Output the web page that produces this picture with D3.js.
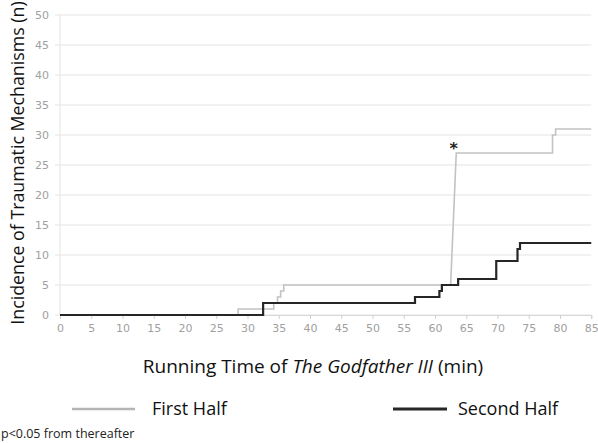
<!DOCTYPE html>
<html>
<head>
<meta charset="utf-8">
<script src="https://cdn.jsdelivr.net/npm/d3@7"></script>
<style>
  html, body { margin: 0; padding: 0; background: #fff; }
  svg { display: block; }
</style>
</head>
<body>
<div id="viz"></div>
<script>
// step plot: cumulative traumatic mechanisms over running time

// vertices: [minute, count]
const firstHalf = [
  [0, 0], [28.5, 0], [28.5, 1], [34.2, 1], [34.2, 2], [34.8, 2], [34.8, 3],
  [35.3, 3], [35.3, 4], [35.8, 4], [35.8, 5], [62.5, 5], [63.4, 27],
  [78.8, 27], [78.8, 30], [79.3, 30], [79.3, 31], [85, 31]
];
const secondHalf = [
  [0, 0], [32.5, 0], [32.5, 2], [56.8, 2], [56.8, 3], [60.7, 3], [60.7, 4],
  [61.1, 4], [61.1, 5], [63.7, 5], [63.7, 6], [69.8, 6], [69.8, 9],
  [73.2, 9], [73.2, 11], [73.6, 11], [73.6, 12], [85, 12]
];
const xTicks = d3.range(0, 86, 5);
const yTicks = d3.range(0, 51, 5);
const significance = [63.0, 28.0]; // where the * sits
const seriesNames = ["First Half", "Second Half"];

const W = 598, H = 443;
const svg = d3.select("#viz").append("svg").attr("width", W).attr("height", H);

const x = d3.scaleLinear().domain([0, 85]).range([60, 591.25]);
const y = d3.scaleLinear().domain([0, 50]).range([315, 15]);

const tickFont = "DejaVu Sans, Verdana, sans-serif";
const titleFont = "Open Sans, Noto Sans, sans-serif";

/* ---------- grid ---------- */
svg.append("g")
  .selectAll("line").data(yTicks).enter().append("line")
  .attr("x1", 55).attr("x2", x(85))
  .attr("y1", d => y(d)).attr("y2", d => y(d))
  .attr("stroke", "#e4e4e4").attr("stroke-width", 1);

svg.append("line")
  .attr("x1", x(0)).attr("x2", x(0)).attr("y1", y(50)).attr("y2", y(0))
  .attr("stroke", "#e4e4e4");

/* ---------- axes ---------- */
const xAxis = svg.append("g").attr("transform", `translate(0,${y(0)})`)
  .call(d3.axisBottom(x).tickValues(xTicks).tickSize(4).tickPadding(5));
xAxis.select(".domain").attr("stroke", "#d8d8d8");
xAxis.selectAll(".tick line").attr("stroke", "#cfcfcf");
xAxis.selectAll("text").attr("fill", "#a0a0a0")
  .style("font-family", tickFont).style("font-size", "11px");

const yAxis = svg.append("g").attr("transform", `translate(50,0)`)
  .call(d3.axisLeft(y).tickValues(yTicks).tickSize(0).tickPadding(1));
yAxis.select(".domain").remove();
yAxis.selectAll("text").attr("fill", "#a0a0a0")
  .style("font-family", tickFont).style("font-size", "11px");

/* ---------- lines ---------- */
const line = d3.line().x(d => x(d[0])).y(d => y(d[1]));

svg.append("path").datum(firstHalf)
  .attr("d", line).attr("fill", "none")
  .attr("stroke", "#c2c2c2").attr("stroke-width", 1.6);

svg.append("path").datum(secondHalf)
  .attr("d", line).attr("fill", "none")
  .attr("stroke", "#262626").attr("stroke-width", 2.2);

svg.append("text")
  .attr("x", x(significance[0])).attr("y", y(significance[1]) + 7)
  .attr("text-anchor", "middle")
  .style("font-family", "DejaVu Sans, sans-serif").style("font-size", "16px")
  .style("font-weight", "bold")
  .attr("fill", "#222").text("*");

/* ---------- titles ---------- */
svg.append("text")
  .attr("transform", `translate(24,${(8 + 318) / 2}) rotate(-90)`)
  .attr("text-anchor", "middle")
  .style("font-family", titleFont).style("font-size", "17.8px")
  .attr("fill", "#111")
  .text("Incidence of Traumatic Mechanisms (n)");

const xt = svg.append("text")
  .attr("x", 313).attr("y", 373)
  .attr("text-anchor", "middle")
  .style("font-family", titleFont).style("font-size", "19px")
  .attr("fill", "#111");
xt.append("tspan").text("Running Time of ");
xt.append("tspan").style("font-style", "italic").text("The Godfather III");
xt.append("tspan").text(" (min)");

/* ---------- legend ---------- */
const legend = [
  { name: seriesNames[0], color: "#b5b5b5", w: 2.4, x0: 72, x1: 135, tx: 152 },
  { name: seriesNames[1], color: "#262626", w: 2.8, x0: 393, x1: 447, tx: 458 }
];
const lg = svg.append("g").selectAll("g").data(legend).enter().append("g");
lg.append("line")
  .attr("x1", d => d.x0).attr("x2", d => d.x1).attr("y1", 409).attr("y2", 409)
  .attr("stroke", d => d.color).attr("stroke-width", d => d.w);
lg.append("text")
  .attr("x", d => d.tx).attr("y", 415)
  .style("font-family", titleFont).style("font-size", "18px")
  .attr("fill", "#111").text(d => d.name);

svg.append("text")
  .attr("x", 1).attr("y", 438)
  .style("font-family", titleFont).style("font-size", "12.5px")
  .attr("fill", "#222").text("p<0.05 from thereafter");
</script>
</body>
</html>
